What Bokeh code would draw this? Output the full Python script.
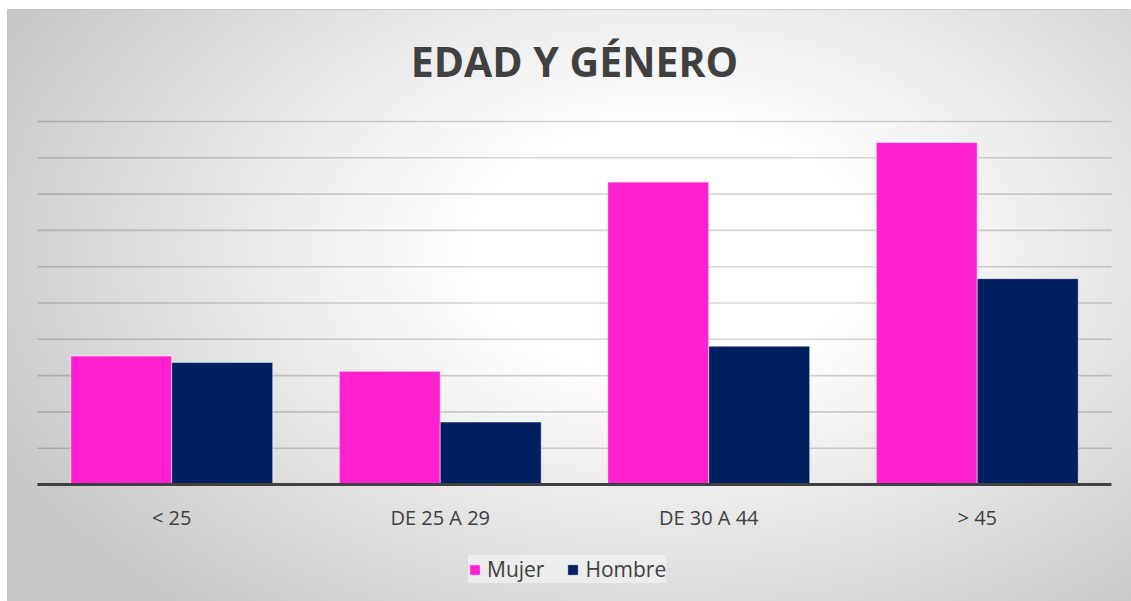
import numpy as np
from bokeh.plotting import figure
from bokeh.models import ColumnDataSource, Range1d, Legend, LegendItem
from bokeh.transform import dodge
from bokeh.core.properties import value
from bokeh.embed import file_html
from bokeh.resources import INLINE

# ---- data ----
categories = ["< 25", "DE 25 A 29", "DE 30 A 44", "> 45"]
mujer = [3.54, 3.12, 8.33, 9.42]
hombre = [3.36, 1.72, 3.81, 5.67]
grid_ticks = list(range(1, 11))
title_text = "EDAD Y GÉNERO"

PINK = "#FF21CF"
NAVY = "#002060"
TXT = "#404040"
FONT = "Open Sans"

LEFT, TOP = 7, 9
W, H = 1131, 601
FW, FH = W - LEFT, H - TOP
x0, x1 = -0.1117, 4.0745
y0, y1 = -3.223, 13.085

p = figure(width=W, height=H, output_backend="svg", toolbar_location=None,
           x_range=Range1d(x0, x1), y_range=Range1d(y0, y1),
           x_axis_type=None, y_axis_type=None, min_border=0,
           min_border_left=LEFT, min_border_top=TOP,
           border_fill_color="white", outline_line_color="#c4c4c4")
p.xgrid.visible = False
p.ygrid.visible = False

# radial gradient background
xs = np.arange(FW) + 0.5
ys = np.arange(FH) + 0.5
X, Y = np.meshgrid(xs, ys)
cx, cy, rx, ry = 660, 240, 720, 460
d = np.sqrt(((X - cx) / rx) ** 2 + ((Y - cy) / ry) ** 2)
v = (255 - 58 * np.clip((d - 0.28) / 0.8, 0, 1)).astype(np.uint8)
img = np.empty((FH, FW), dtype=np.uint32)
view = img.view(dtype=np.uint8).reshape((FH, FW, 4))
view[..., 0] = v
view[..., 1] = v
view[..., 2] = v
view[..., 3] = 255
p.image_rgba(image=[img[::-1]], x=x0, y=y0, dw=x1 - x0, dh=y1 - y0)

n = len(categories)
xc = [i + 0.5 for i in range(n)]

# gridlines
p.segment(x0=[0] * len(grid_ticks), x1=[n] * len(grid_ticks), y0=grid_ticks, y1=grid_ticks,
          line_color="black", line_alpha=0.17, line_width=1.6)

src = ColumnDataSource(dict(x=xc, cat=categories, mujer=mujer, hombre=hombre))
bw = 0.376
r1 = p.vbar(x=dodge("x", -bw / 2), top="mujer", width=bw, bottom=0, source=src,
            fill_color=PINK, line_color="white", line_alpha=0.55, line_width=1)
r2 = p.vbar(x=dodge("x", bw / 2), top="hombre", width=bw, bottom=0, source=src,
            fill_color=NAVY, line_color="white", line_alpha=0.45, line_width=1)

# baseline
p.segment(x0=[0], x1=[n], y0=[0], y1=[0], line_color=TXT, line_width=3)

# category labels
p.text(x="x", y=-0.91, text="cat", source=src, text_align="center", text_baseline="middle",
       text_font=value(FONT), text_font_size="20px", text_color=TXT)

# title
p.text(x=[n / 2], y=[11.68], text=[title_text], text_align="center", text_baseline="middle",
       text_font=value(FONT), text_font_size="41px", text_font_style="bold", text_color=TXT)

legend = Legend(items=[LegendItem(label="Mujer", renderers=[r1]),
                       LegendItem(label="Hombre", renderers=[r2])],
                orientation="horizontal", location=(461, 18),
                label_text_font=FONT, label_text_font_size="21px", label_text_color=TXT,
                glyph_width=13, glyph_height=13, label_standoff=6, spacing=22,
                padding=14, margin=0, background_fill_color="#f5f5f5", background_fill_alpha=0.6,
                border_line_color=None)
p.add_layout(legend)

open("out.html", "w").write(file_html(p, INLINE))
